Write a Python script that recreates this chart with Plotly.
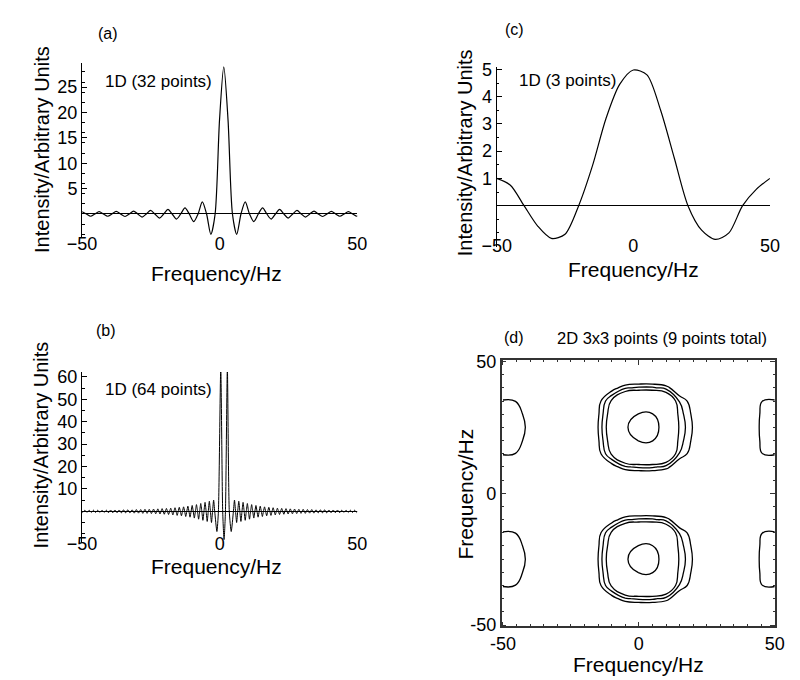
import plotly.graph_objects as go

FONT = "Liberation Sans"

# ---- panel (a): 1D 32 points ----
a_center = 1.5
a_peak = 29.0
a_shoulder = 18.5
a_lobe_offsets = [4.7, 7.8, 10.9, 14.1, 17.2, 20.3, 23.4, 26.6, 29.7, 32.8, 35.9, 39.1, 42.2, 45.3, 48.4, 51.5]
a_lobe_vals = [-4.0, 2.4, -1.5, 1.2, -1.0, 0.9, -0.8, 0.7, -0.6, 0.55, -0.5, 0.5, -0.45, 0.45, -0.45, 0.45]

# ---- panel (b): 1D 64 points ----
b_core_x = [-1.8, -1.0, -0.45, 0.4, 1.1, 1.6, 2.1, 2.8, 3.5, 4.2, 5.0]
b_core_y = [0, -9, 0, 64, 0, -12.6, 0, 64, 0, -9, 0]
b_cycle_amps = [5, 4.5, 4, 3.5, 3, 2.6, 2.3, 2, 1.8, 1.6, 1.4, 1.3, 1.2, 1.1, 1.0,
                0.9, 0.9, 0.8, 0.8, 0.7, 0.7, 0.7, 0.6, 0.6, 0.6, 0.5, 0.5, 0.5, 0.5, 0.5, 0.5, 0.5, 0.5, 0.5]
b_half_step = 0.39

# ---- panel (c): 1D 3 points ----
c_x = [-50, -45, -40, -35, -30, -25, -20, -15, -10, -5, 0, 5, 10, 15, 20, 25, 30, 35, 40, 45, 50]
c_y = [1.0, 0.75, 0.0, -0.75, -1.2, -1.05, 0.0, 1.45, 3.2, 4.45, 4.98, 4.8, 3.5, 1.75, 0.0, -0.9, -1.24, -1.0, 0.0, 0.6, 1.0]

# ---- panel (d): 2D 3x3 points ----
d_x = [-50, -45, -40, -35, -30, -25, -20, -15, -10, -5, 0, 5, 10, 15, 20, 25, 30, 35, 40, 45, 50]
d_xprof = [9.4, 9.0, 7, 0, -4, -5, -1, 7.7, 14, 20.5, 22, 22, 19.5, 11, 7.5, 1, -4, -5, 0, 9.0, 9.4]
d_y = [-50, -45, -40, -35, -30, -25, -20, -15, -10, -5, 0, 5, 10, 15, 20, 25, 30, 35, 40, 45, 50]
d_yprof = [0.0, 0.1, 0.45, 0.85, 0.95, 1.0, 0.95, 0.85, 0.45, 0.1, 0.0, 0.1, 0.45, 0.85, 0.95, 1.0, 0.95, 0.85, 0.45, 0.1, 0.0]
d_levels = [7.7, 9.5, 11.5, 20.8]

# build (a)
ax_pts = [(a_center, a_peak), (a_center - 1.55, a_shoulder), (a_center + 1.55, a_shoulder)]
for off, v in zip(a_lobe_offsets, a_lobe_vals):
    for s in (-1, 1):
        ax_pts.append((a_center + s * off, v))
        ax_pts.append((a_center + s * (off - 1.55), 0.0))
ax_pts.sort()
a_x = [p[0] for p in ax_pts]
a_y = [p[1] for p in ax_pts]

# build (b)
bpts = list(zip(b_core_x, b_core_y))
right0 = b_core_x[-1]
left0 = b_core_x[0]
k = 0
for amp in b_cycle_amps:
    for sign in (1, -1):
        bpts.append((right0 + (2 * k + 1) * b_half_step, sign * amp))
        bpts.append((left0 - (2 * k + 1) * b_half_step, sign * amp))
        bpts.append((right0 + (2 * k + 2) * b_half_step, 0.0))
        bpts.append((left0 - (2 * k + 2) * b_half_step, 0.0))
        k += 1
bpts.sort()
b_x = [p[0] for p in bpts]
b_y = [p[1] for p in bpts]

# build (d)
d_z = [[xv * yv for xv in d_xprof] for yv in d_yprof]

fig = go.Figure()
line = dict(color="black", width=1.2, shape="spline", smoothing=0.8)
fig.add_trace(go.Scatter(x=a_x, y=a_y, mode="lines", line=line, xaxis="x", yaxis="y"))
fig.add_trace(go.Scatter(x=b_x, y=b_y, mode="lines", line=dict(color="black", width=1, shape="spline", smoothing=0.6), xaxis="x2", yaxis="y2"))
fig.add_trace(go.Scatter(x=c_x, y=c_y, mode="lines", line=line, xaxis="x3", yaxis="y3"))
for lv in d_levels:
    fig.add_trace(go.Contour(x=d_x, y=d_y, z=d_z, xaxis="x4", yaxis="y4",
                             contours=dict(coloring="none", start=lv, end=lv, size=1),
                             line=dict(color="black", width=1.3, smoothing=1.3),
                             showscale=False, hoverinfo="skip"))

tickf = dict(family=FONT, size=18, color="black")

def ypos(y):
    return 1 - y / 680

def xax(domain, pos_px, tickvals):
    return dict(domain=domain, anchor="free", position=ypos(pos_px), range=[-50, 50], tickvals=tickvals,
                ticktext=["\u221250" if t == -50 else str(t) for t in tickvals],
                showline=False, showgrid=False, zeroline=False, ticks="", tickfont=tickf)

def yax(domain, rng, tickvals, xa):
    return dict(domain=domain, anchor=xa, range=rng, tickvals=tickvals, showline=True, linecolor="black", linewidth=1.2,
                showgrid=False, zeroline=True, zerolinecolor="black", zerolinewidth=1.2,
                ticks="inside", ticklen=5, tickcolor="black", tickfont=tickf,
                minor=dict(ticks="inside", ticklen=2.5, tickcolor="black", nticks=5))

def box(domain, rng, anchor):
    return dict(domain=domain, anchor=anchor, range=rng, tickvals=[-50, 0, 50], ticktext=["-50", "0", "50"],
                showline=True, mirror="ticks", linecolor="#333", linewidth=1.5, showgrid=False, zeroline=False,
                ticks="inside", ticklen=5, tickcolor="#333", tickfont=tickf,
                minor=dict(ticks="inside", ticklen=2.5, tickcolor="#333", nticks=10))

fig.update_layout(
    width=800, height=680, margin=dict(l=0, r=0, t=0, b=0),
    paper_bgcolor="white", plot_bgcolor="white", showlegend=False,
    font=dict(family=FONT, color="black"),
    xaxis=xax([61 / 800, 345 / 800], 221, [-50, 0, 50]),
    yaxis=yax([ypos(227), ypos(48)], [-4.6, 29.8], [5, 10, 15, 20, 25], "x"),
    xaxis2=xax([61 / 800, 345 / 800], 528, [-50, 0, 50]),
    yaxis2=yax([ypos(540), ypos(365)], [-13.9, 62.2], [10, 20, 30, 40, 50, 60], "x2"),
    xaxis3=xax([489 / 800, 771 / 800], 223, [-50, 0, 50]),
    yaxis3=yax([ypos(237), ypos(52)], [-1.52, 5.1], [1, 2, 3, 4, 5], "x3"),
    xaxis4=box([494 / 800, 776 / 800], [-50.5, 50], "y4"),
    yaxis4=box([ypos(626), ypos(353)], [-50.5, 50.5], "x4"),
)

ann = []
def text(t, x, y, size, angle=0, xanchor="center"):
    ann.append(dict(text=t, x=x / 800, y=ypos(y), xref="paper", yref="paper", showarrow=False, textangle=angle,
                    xanchor=xanchor, yanchor="middle", font=dict(family=FONT, size=size, color="black")))

text("(a)", 88, 18, 16)
text("(b)", 86, 323, 16)
text("(c)", 507, 14, 16)
text("(d)", 507, 330, 16)
text("1D (32 points)", 83, 67, 17, xanchor="left")
text("1D (64 points)", 83, 383, 17, xanchor="left")
text("1D (3 points)", 510, 66, 17, xanchor="left")
text("2D 3x3 points (9 points total)", 660, 330, 16.5)
text("Frequency/Hz", 200, 264, 21)
text("Frequency/Hz", 200, 565, 21)
text("Frequency/Hz", 630, 260, 21)
text("Frequency/Hz", 635, 665, 21)
text("Intensity/Arbitrary Units", 19, 137, 20, angle=-90)
text("Intensity/Arbitrary Units", 19, 440, 20, angle=-90)
text("Intensity/Arbitrary Units", 457, 140, 20, angle=-90)
text("Frequency/Hz", 457, 490, 21, angle=-90)
fig.update_layout(annotations=ann)

fig.write_html("out.html")
